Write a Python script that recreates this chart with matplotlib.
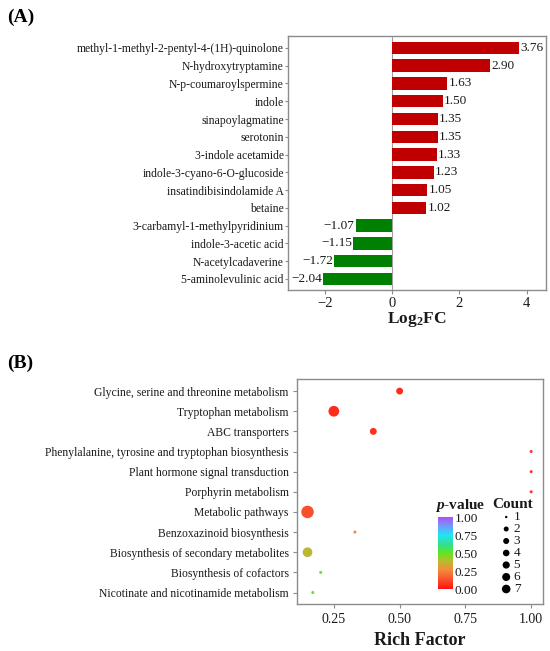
import numpy as np
import matplotlib as mpl
mpl.use('Agg')
import matplotlib.pyplot as plt
from matplotlib.colors import LinearSegmentedColormap

mpl.rcParams['font.family'] = 'Liberation Serif'
mpl.rcParams['mathtext.fontset'] = 'custom'
mpl.rcParams['mathtext.rm'] = 'Liberation Serif'
mpl.rcParams['mathtext.it'] = 'Liberation Serif:italic:bold'
mpl.rcParams['mathtext.bf'] = 'Liberation Serif:bold'
mpl.rcParams['axes.unicode_minus'] = True

# --- panel A data
metabolites = ['methyl-1-methyl-2-pentyl-4-(1H)-quinolone', 'N-hydroxytryptamine',
               'N-p-coumaroylspermine', 'indole', 'sinapoylagmatine', 'serotonin',
               '3-indole acetamide', 'indole-3-cyano-6-O-glucoside',
               'insatindibisindolamide A', 'betaine', '3-carbamyl-1-methylpyridinium',
               'indole-3-acetic acid', 'N-acetylcadaverine', '5-aminolevulinic acid']
log2fc = [3.76, 2.90, 1.63, 1.50, 1.35, 1.35, 1.33, 1.23, 1.05, 1.02,
          -1.07, -1.15, -1.72, -2.04]

# --- panel B data
pathways = ['Glycine, serine and threonine metabolism', 'Tryptophan metabolism',
            'ABC transporters', 'Phenylalanine, tyrosine and tryptophan biosynthesis',
            'Plant hormone signal transduction', 'Porphyrin metabolism',
            'Metabolic pathways', 'Benzoxazinoid biosynthesis',
            'Biosynthesis of secondary metabolites', 'Biosynthesis of cofactors',
            'Nicotinate and nicotinamide metabolism']
rich_factor = [0.50, 0.25, 0.40, 1.00, 1.00, 1.00, 0.15, 0.33, 0.15, 0.20, 0.17]
counts = [2, 5, 2, 1, 1, 1, 7, 1, 4, 1, 1]
pvalues = [0.06, 0.06, 0.07, 0.08, 0.08, 0.08, 0.13, 0.26, 0.38, 0.47, 0.49]
count_levels = [1, 2, 3, 4, 5, 6, 7]
cbar_ticks = [0.00, 0.25, 0.50, 0.75, 1.00]

W, H = 550, 651
fig = plt.figure(figsize=(W / 100, H / 100), dpi=100)

def rect(l, t, r, b):
    return [l / W, 1 - b / H, (r - l) / W, (b - t) / H]

txt = '#1a1a1a'
spine = '#8c8c8c'

# ---------------- (A)
ax = fig.add_axes(rect(288, 36, 546, 290))
y = np.arange(len(metabolites))
cols = ['#c00000' if v > 0 else '#008000' for v in log2fc]
ax.barh(y, log2fc, height=0.7, color=cols, zorder=2)
ax.axvline(0, color='#a0a0a0', lw=0.8, zorder=1)
for yi, v in zip(y, log2fc):
    s = f'{v:.2f}'.replace('-', '\u2212')
    if v > 0:
        ax.text(v + 0.04, yi, s, ha='left', va='center', fontsize=9.5, color=txt)
    else:
        ax.text(v - 0.04, yi, s, ha='right', va='center', fontsize=9.5, color=txt)
ax.set_yticks(y)
ax.set_yticklabels(metabolites, fontsize=8.4, color=txt)
ax.set_ylim(13.62, -0.67)
ax.set_xlim(-3.09, 4.57)
ax.set_xticks([-2, 0, 2, 4])
ax.tick_params(axis='x', labelsize=10.5, colors=spine, labelcolor=txt, length=3, width=0.8, pad=2)
ax.tick_params(axis='y', colors=spine, labelcolor=txt, length=2, width=0.8, pad=1)
for sp in ax.spines.values():
    sp.set_color(spine)
    sp.set_linewidth(1.0)
ax.set_xlabel(r'Log$_\mathbf{2}$FC', fontsize=12.5, fontweight='bold', color=txt, labelpad=0)
fig.text(7 / W, 1 - 17 / H, '(A)', fontsize=14, fontweight='bold', va='center', ha='left')

# ---------------- (B)
cmap = LinearSegmentedColormap.from_list('pv', [
    (0.00, '#ff1010'), (0.15, '#f85a30'), (0.27, '#f28e3a'), (0.40, '#b0c030'),
    (0.50, '#5ee620'), (0.62, '#30e090'), (0.75, '#20e4f4'), (0.88, '#7098ff'),
    (1.00, '#b050f0')])

def dot_px(c):
    return 3.0 + 9.5 * np.sqrt((np.asarray(c, float) - 1) / 6.0)

bx = fig.add_axes(rect(297, 379, 543, 604))
yb = np.arange(len(pathways))
sizes = (dot_px(counts) * 0.72) ** 2
bx.scatter(rich_factor, yb, s=sizes, c=pvalues, cmap=cmap, vmin=0, vmax=1,
           edgecolors='none', zorder=3)
bx.set_yticks(yb)
bx.set_yticklabels(pathways, fontsize=8.4, color=txt)
bx.set_ylim(10.57, -0.6)
bx.set_xlim(0.11, 1.045)
bx.set_xticks([0.25, 0.50, 0.75, 1.00])
bx.set_xticklabels(['0.25', '0.50', '0.75', '1.00'])
bx.tick_params(axis='x', labelsize=10, colors=spine, labelcolor=txt, length=3, width=0.8)
bx.tick_params(axis='y', colors=spine, labelcolor=txt, length=3, width=0.8, pad=3)
for sp in bx.spines.values():
    sp.set_color(spine)
    sp.set_linewidth(1.0)
bx.set_xlabel('Rich Factor', fontsize=13, fontweight='bold', color=txt, labelpad=4)
fig.text(7 / W, 1 - 363 / H, '(B)', fontsize=14, fontweight='bold', va='center', ha='left')

# colorbar legend
cax = fig.add_axes(rect(438, 517, 453, 589))
sm = mpl.cm.ScalarMappable(norm=mpl.colors.Normalize(0, 1), cmap=cmap)
cb = fig.colorbar(sm, cax=cax, ticks=cbar_ticks)
cb.outline.set_visible(False)
cb.ax.set_yticklabels([f'{t:.2f}' for t in cbar_ticks])
cb.ax.tick_params(labelsize=9.5, length=0, pad=1, labelcolor=txt)
fig.text(460 / W, 1 - 505 / H, '$p$-value', fontsize=11, fontweight='bold',
         ha='center', va='center', color=txt)

# count legend
lax = fig.add_axes(rect(496, 511, 530, 595))
lax.set_xlim(0, 1)
lax.set_ylim(7.5, 0.5)
lax.axis('off')
leg_px = [2.4, 5.0, 6.0, 6.6, 7.2, 8.0, 8.6]
lax.scatter([0.3] * len(count_levels), count_levels,
            s=(np.array(leg_px) * 0.72) ** 2, color='black', edgecolors='none')
for c in count_levels:
    lax.text(0.52, c, str(c), fontsize=9.5, va='center', ha='left', color=txt)
fig.text(513 / W, 1 - 505 / H, 'Count', fontsize=11, fontweight='bold',
         ha='center', va='center', color=txt)

fig.savefig('out.png', dpi=100)
